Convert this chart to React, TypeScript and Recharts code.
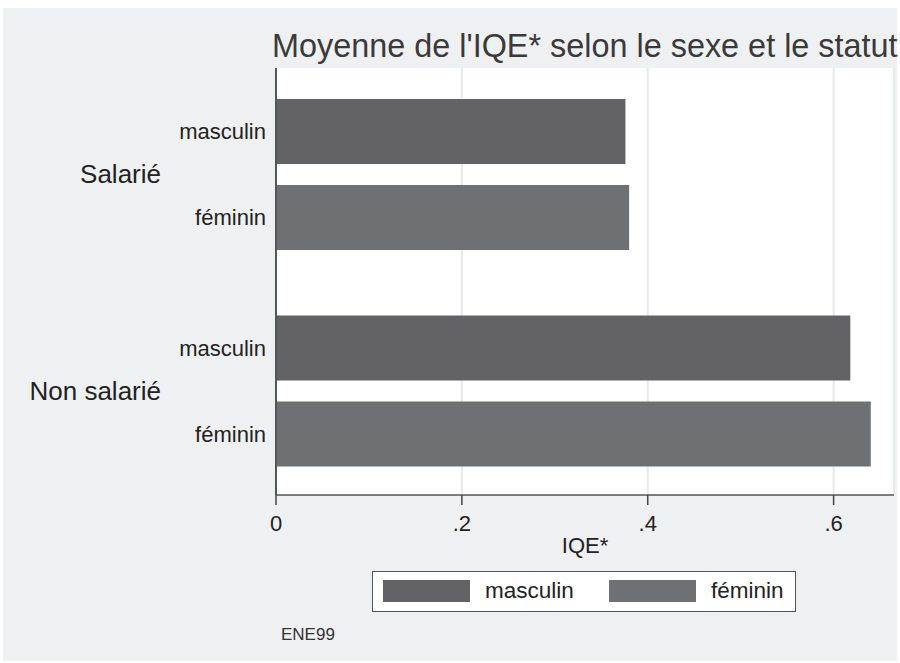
import { BarChart, Bar, XAxis, YAxis, CartesianGrid, LabelList } from 'recharts'

// Moyenne de l'IQE* par statut, pour chaque sexe
const statuts = ['Salarié', 'Non salarié']
const masculin = [0.376, 0.618]
const feminin = [0.380, 0.640]
const xTicks = [0, 0.2, 0.4, 0.6]

const series = [
  { key: 'masculin', name: 'masculin', color: '#636365' },
  { key: 'feminin', name: 'féminin', color: '#6f7074' },
]

const FONT = '"Liberation Sans", Arial, Helvetica, sans-serif'
const TEXT = '#222'

const data = statuts.map((statut, i) => ({
  statut,
  masculin: masculin[i],
  feminin: feminin[i],
}))

// stata style: .2 instead of 0.2
const fmtTick = (v: number) => (v === 0 ? '0' : String(v).replace(/^0/, ''))

function StatutTick({ y, payload }: any) {
  return (
    <text
      x={161}
      y={y}
      textAnchor="end"
      dominantBaseline="central"
      fontSize={26}
      fill={TEXT}
      fontFamily={FONT}
    >
      {payload.value}
    </text>
  )
}

const sexeLabel = (name: string) => (props: any) => {
  const { x, y, height } = props
  return (
    <text
      x={Number(x) - 10}
      y={Number(y) + Number(height) / 2}
      textAnchor="end"
      dominantBaseline="central"
      fontSize={22}
      fill={TEXT}
      fontFamily={FONT}
    >
      {name}
    </text>
  )
}

export default function App() {
  return (
    <div
      style={{
        position: 'absolute',
        left: 0,
        top: 0,
        width: 900,
        height: 663,
        background: '#fff',
        fontFamily: FONT,
      }}
    >
      <div
        style={{
          position: 'absolute',
          left: 3,
          top: 8,
          width: 894,
          height: 653,
          background: '#eff0f2',
        }}
      />
      <div
        style={{
          position: 'absolute',
          left: 272,
          top: 28,
          fontSize: 32.4,
          lineHeight: '36px',
          color: '#3a3a3a',
          whiteSpace: 'nowrap',
        }}
      >
        Moyenne de l'IQE* selon le sexe et le statut
      </div>

      <div style={{ position: 'absolute', left: 0, top: 0 }}>
        <BarChart
          width={900}
          height={663}
          data={data}
          layout="vertical"
          margin={{ top: 68, right: 6, bottom: 108, left: 160 }}
          barGap={21}
        >
          <CartesianGrid
            horizontal={false}
            fill="#fff"
            stroke="#e8e9eb"
            strokeWidth={2}
          />
          <XAxis
            type="number"
            domain={[0, 0.665]}
            ticks={xTicks}
            tickFormatter={fmtTick}
            height={60}
            tickSize={10}
            tickMargin={10}
            stroke="#444"
            axisLine={{ stroke: '#555', strokeWidth: 1.5 }}
            tickLine={{ stroke: '#444', strokeWidth: 1.5 }}
            tick={{ fontSize: 22, fill: TEXT, fontFamily: FONT }}
            label={{
              value: 'IQE*',
              position: 'insideBottom',
              offset: 2,
              fontSize: 22,
              fill: TEXT,
              fontFamily: FONT,
            }}
          />
          <YAxis
            type="category"
            dataKey="statut"
            width={116}
            padding={{ top: -2, bottom: -4 }}
            axisLine={{ stroke: '#555', strokeWidth: 2 }}
            tickLine={false}
            tick={<StatutTick />}
          />
          {series.map((s) => (
            <Bar
              key={s.key}
              dataKey={s.key}
              name={s.name}
              fill={s.color}
              barSize={65}
              isAnimationActive={false}
            >
              <LabelList dataKey={s.key} content={sexeLabel(s.name)} />
            </Bar>
          ))}
        </BarChart>
      </div>

      {/* legend box */}
      <div
        style={{
          position: 'absolute',
          left: 372,
          top: 571,
          width: 422,
          height: 39,
          border: '1.5px solid #555',
          background: '#fff',
        }}
      >
        {series.map((s, i) => (
          <div
            key={s.key}
            style={{
              position: 'absolute',
              left: 10 + i * 226,
              top: 8,
              display: 'flex',
              alignItems: 'center',
              height: 22,
            }}
          >
            <div style={{ width: 87, height: 22, background: s.color }} />
            <span
              style={{
                marginLeft: 15,
                fontSize: 22.5,
                color: TEXT,
                whiteSpace: 'nowrap',
              }}
            >
              {s.name}
            </span>
          </div>
        ))}
      </div>

      <div
        style={{
          position: 'absolute',
          left: 281,
          top: 625,
          fontSize: 17,
          lineHeight: '20px',
          color: '#333',
        }}
      >
        ENE99
      </div>
    </div>
  )
}
